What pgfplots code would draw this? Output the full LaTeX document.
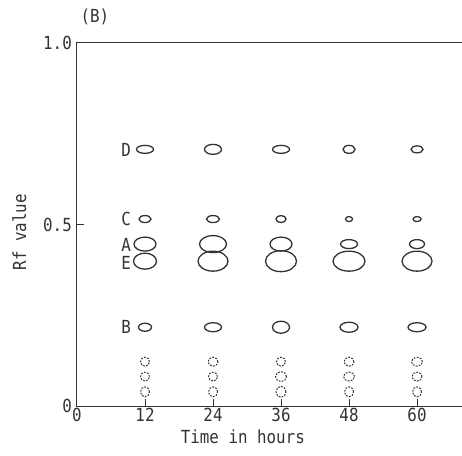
\documentclass[border=0pt]{standalone}
\usepackage{fontspec}
\setmonofont{DejaVu Sans Mono}[FakeStretch=0.88]
\usepackage{pgfplots}
\usepackage{pgfplotstable}
\pgfplotsset{compat=1.18}
\definecolor{ink}{HTML}{333333}
\pgfdeclareplotmark{ell}{%
  \pgfpathellipse{\pgfpointorigin}{\pgfpoint{\myrx pt}{0pt}}{\pgfpoint{0pt}{\myry pt}}%
  \pgfusepathqstroke}
\pgfplotstableread{
x y rx ry
12 0.707 8.5 4
24 0.707 8.5 5
36 0.707 8.5 4
48 0.707 6 4
60 0.707 6 3.5
12 0.515 6 3.5
24 0.515 6.5 3.5
36 0.515 5 3.5
48 0.515 3.5 2.5
60 0.515 4 2.5
12 0.446 11 7
24 0.446 13.5 8.5
36 0.446 11 7
48 0.446 8.5 4.5
60 0.446 7.5 4.5
12 0.399 11.5 8
24 0.399 15 10
36 0.399 15.5 10.5
48 0.399 16 10
60 0.399 15 10
12 0.217 6.5 4
24 0.217 8.5 4.5
36 0.217 8.5 6
48 0.217 9 5
60 0.217 9 4.5
}\solidspots
\pgfplotstableread{
x y rx ry
12 0.122 4.5 4.5
24 0.122 5 4.5
36 0.122 4.5 4.5
48 0.122 5 4.5
60 0.122 5.5 4.5
12 0.081 4.5 4.5
24 0.081 4.5 4.5
36 0.081 5.5 5
48 0.081 5.5 4.5
60 0.081 5 4.5
12 0.039 4.5 5
24 0.039 4.5 5
36 0.039 5 5.5
48 0.039 4.5 5
60 0.039 4.5 5
}\dashedspots
\begin{document}
\begin{tikzpicture}
\begin{axis}[
  name=ax,
  scale only axis, width=396.7pt, height=363pt,
  xmin=0, xmax=70, ymin=0, ymax=1,
  axis line style={line width=1pt, ink},
  every tick/.style={line width=1pt, ink},
  tick pos=left, tick align=inside, major tick length=7pt,
  xtick={0,12,24,36,48,60}, xticklabels={0,12,24,36,48,60},
  ytick={0,0.5,1}, yticklabels={0,0.5,1.0},
  /pgf/number format/assume math mode=true,
  ticklabel style={font=\fontsize{18}{20}\selectfont\ttfamily, text=ink},
  xticklabel style={inner sep=1pt, yshift=-1pt},
  yticklabel style={inner sep=2pt, xshift=-3pt},
  xlabel={Time in hours},
  ylabel={Rf value},
  label style={font=\fontsize{18}{20}\selectfont\ttfamily, text=ink},
  xlabel style={at={(axis description cs:0.418,-0.085)}, anchor=center},
  ylabel style={at={(axis description cs:-0.145,0.479)}, anchor=center},
  clip=false,
]
\addplot[only marks, mark=ell, scatter, draw=ink, line width=1.3pt,
  mark options={solid},
  scatter/@pre marker code/.code={}, scatter/@post marker code/.code={},
  visualization depends on={\thisrow{rx} \as \myrx},
  visualization depends on={\thisrow{ry} \as \myry}]
  table[x=x, y=y] {\solidspots};
\addplot[only marks, mark=ell, scatter, draw=ink, line width=1pt,
  mark options={dash pattern=on 1.8pt off 1.3pt},
  scatter/@pre marker code/.code={}, scatter/@post marker code/.code={},
  visualization depends on={\thisrow{rx} \as \myrx},
  visualization depends on={\thisrow{ry} \as \myry}]
  table[x=x, y=y] {\dashedspots};
\begin{scope}[every node/.style={font=\fontsize{18}{20}\selectfont\ttfamily, text=ink, inner sep=0pt}]
\node at (axis cs:8.65,0.705) {D};
\node at (axis cs:8.65,0.515) {C};
\node at (axis cs:8.65,0.444) {A};
\node at (axis cs:8.65,0.394) {E};
\node at (axis cs:8.65,0.217) {B};
\node at (axis description cs:0.045,1.0716) {(B)};
\end{scope}
\end{axis}
\pgfresetboundingbox
\path[use as bounding box] (-77pt,-49pt) rectangle (385pt,406pt);
\end{tikzpicture}
\end{document}
